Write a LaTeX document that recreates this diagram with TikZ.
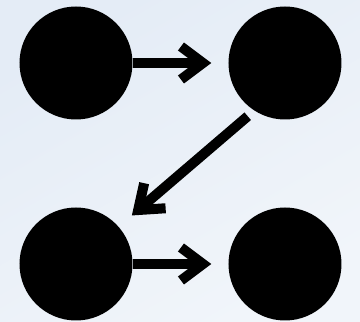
\documentclass[tikz,border=0pt]{standalone}
\usepackage{xcolor}
\usetikzlibrary{arrows.meta}
\definecolor{bgtop}{RGB}{228,236,246}
\definecolor{bgbot}{RGB}{241,245,250}

\begin{document}
\begin{tikzpicture}[x=1pt, y=1pt,
  dot/.style={circle, fill=black, inner sep=0pt, minimum size=113pt},
  flow/.style={line width=10pt, -{Straight Barb[length=22pt, width=33pt, line width=10pt]}}]
  % background
  \shade[shading=axis, top color=bgtop, bottom color=bgbot, shading angle=30] (0,0) rectangle (360,322);
  \useasboundingbox (0,0) rectangle (360,322);
  % the four dots
  \node[dot] (a) at (76,259) {};
  \node[dot] (b) at (285,259) {};
  \node[dot] (c) at (76,58) {};
  \node[dot] (d) at (285,58) {};
  % arrows between them
  \draw[flow] (a.east) -- ([xshift=-17pt]b.west);
  \draw[flow] ([shift={(235:65pt)}]b.center) -- ([shift={(41:74pt)}]c.center);
  \draw[flow] (c.east) -- ([xshift=-17pt]d.west);
\end{tikzpicture}
\end{document}
